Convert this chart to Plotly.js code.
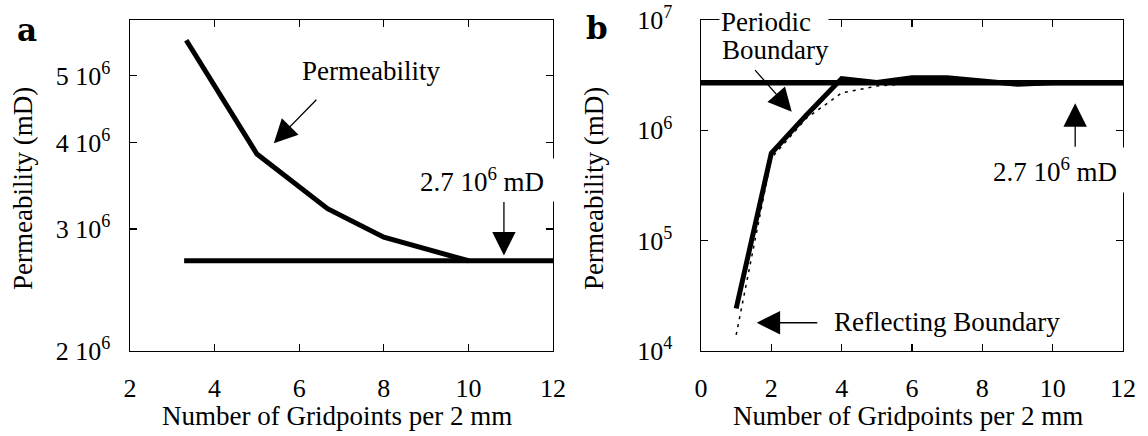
<!DOCTYPE html>
<html><head><meta charset="utf-8">
<script src="https://cdn.plot.ly/plotly-3.0.1.min.js"></script>
<style>html,body{margin:0;padding:0;background:#fff;}#chart{width:1148px;height:436px;}</style>
</head><body><div id="chart"></div>
<script>
// ---- Panel a data ----
const gridA = [3.33, 5, 6.67, 8, 10];
const permA = [5.62e6, 3.85e6, 3.21e6, 2.92e6, 2.70e6];
const refAx = [3.28, 12];
const refAy = [2.7e6, 2.7e6];
const xTicksA = [2, 4, 6, 8, 10, 12];
const yTicksA = [2e6, 3e6, 4e6, 5e6];
const yTickTextA = ['2 10<sup>6</sup>', '3 10<sup>6</sup>', '4 10<sup>6</sup>', '5 10<sup>6</sup>'];

// ---- Panel b data ----
const gridB = [1, 2, 3, 4, 5, 6, 7, 8, 9, 10, 11, 12];
const periodicB = [2.43e4, 6.2e5, 1.38e6, 2.95e6, 2.72e6, 3.0e6, 3.0e6, 2.8e6, 2.62e6, 2.7e6, 2.7e6, 2.7e6];
const reflectingB = [1.4e4, 5.6e5, 1.29e6, 2.18e6, 2.52e6, 2.66e6, 2.7e6, 2.7e6, 2.7e6, 2.7e6, 2.7e6, 2.7e6];
const refBx = [0, 12];
const refBy = [2.7e6, 2.7e6];
const xTicksB = [0, 2, 4, 6, 8, 10, 12];
const yTicksB = [1e4, 1e5, 1e6, 1e7];
const yTickTextB = ['10<sup>4</sup>', '10<sup>5</sup>', '10<sup>6</sup>', '10<sup>7</sup>'];

const FONT = '"Liberation Serif"';
const TXT = 27;
const W = 1148, H = 436;
const px = v => v / W, py = v => 1 - v / H;
const L = Math.log10;

const traces = [
  {x: refAx, y: refAy, xaxis: 'x', yaxis: 'y', mode: 'lines', line: {color: '#000', width: 5}},
  {x: gridA, y: permA, xaxis: 'x', yaxis: 'y', mode: 'lines', line: {color: '#000', width: 5}},
  {x: refBx, y: refBy, xaxis: 'x2', yaxis: 'y2', mode: 'lines', line: {color: '#000', width: 5.5}},
  {x: gridB, y: reflectingB, xaxis: 'x2', yaxis: 'y2', mode: 'lines', line: {color: '#000', width: 1.5, dash: '3px,5px'}},
  {x: gridB, y: periodicB, xaxis: 'x2', yaxis: 'y2', mode: 'lines', line: {color: '#000', width: 5}}
];

const axBase = {
  showline: true, linecolor: '#000', linewidth: 1.4, mirror: 'ticks',
  ticks: 'inside', ticklen: 7, tickwidth: 1.3, tickcolor: '#000',
  showgrid: false, zeroline: false, fixedrange: true,
  tickfont: {family: FONT, size: 26, color: '#000'}
};
const yDom = [py(351), py(20)];

const P = (x, y, text, extra) => Object.assign({xref: 'paper', yref: 'paper', x: px(x), y: py(y), xanchor: 'center', yanchor: 'middle', text: text, showarrow: false}, extra || {});
const arrowStyle = {text: '', showarrow: true, arrowhead: 2, arrowsize: 3.6, arrowwidth: 1.3, arrowcolor: '#000', standoff: 0};

const layout = {
  width: W, height: H, margin: {l: 0, r: 0, t: 0, b: 0},
  paper_bgcolor: '#fff', plot_bgcolor: '#fff', showlegend: false,
  font: {family: FONT, size: TXT, color: '#000'},
  xaxis: Object.assign({}, axBase, {domain: [px(130), px(553)], range: [2, 12], tickmode: 'array', tickvals: xTicksA, anchor: 'y', ticklabelstandoff: 13}),
  yaxis: Object.assign({}, axBase, {domain: yDom, type: 'log', range: [L(2e6), 6.779], tickmode: 'array', tickvals: yTicksA, ticktext: yTickTextA, anchor: 'x', ticklabelstandoff: 13}),
  xaxis2: Object.assign({}, axBase, {domain: [px(701), px(1123)], range: [0, 12], tickmode: 'array', tickvals: xTicksB, anchor: 'y2', ticklabelstandoff: 13}),
  yaxis2: Object.assign({}, axBase, {domain: yDom, type: 'log', range: [4, 7], tickmode: 'array', tickvals: yTicksB, ticktext: yTickTextB, anchor: 'x2', ticklabelstandoff: 22}),
  annotations: [
    // panel letters
    P(27, 30, '<b>a</b>', {font: {family: '"DejaVu Serif"', size: 31, color: '#000'}}),
    P(597, 28, '<b>b</b>', {font: {family: '"DejaVu Serif"', size: 31, color: '#000'}}),
    // axis titles
    P(337, 416, 'Number of Gridpoints per 2 mm'),
    P(908, 416, 'Number of Gridpoints per 2 mm'),
    P(23, 189, 'Permeability (mD)', {textangle: -90}),
    P(594, 189, 'Permeability (mD)', {textangle: -90}),
    // panel a labels
    {xref: 'x', yref: 'y', x: 7.70, y: 6.705, xanchor: 'center', yanchor: 'middle', text: 'Permeability', showarrow: false},
    Object.assign({xref: 'x', yref: 'y', x: 5.40, y: 6.601, ax: 44, ay: -45}, arrowStyle),
    {xref: 'x', yref: 'y', x: 10.32, y: 6.548, xanchor: 'center', yanchor: 'middle', text: '2.7 10<sup>6</sup> mD', showarrow: false, bgcolor: '#fff', width: 146, height: 36, borderpad: 3},
    Object.assign({xref: 'x', yref: 'y', x: 10.84, y: 6.439, ax: 0, ay: -55}, arrowStyle),
    // panel b labels
    {xref: 'x2', yref: 'y2', x: 0.50, y: 6.98, xanchor: 'left', yanchor: 'middle', align: 'left', text: 'Periodic', showarrow: false, bgcolor: '#fff', borderpad: 1, width: 106},
    {xref: 'x2', yref: 'y2', x: 0.53, y: 6.73, xanchor: 'left', yanchor: 'middle', align: 'left', text: 'Boundary', showarrow: false},
    Object.assign({xref: 'x2', yref: 'y2', x: 2.58, y: 6.169, ax: -38, ay: -43}, arrowStyle),
    {xref: 'x2', yref: 'y2', x: 10.08, y: 5.64, xanchor: 'center', yanchor: 'middle', text: '2.7 10<sup>6</sup> mD', showarrow: false, bgcolor: '#fff', width: 146, height: 38, borderpad: 3},
    Object.assign({xref: 'x2', yref: 'y2', x: 10.64, y: 6.245, ax: 0, ay: 45}, arrowStyle),
    {xref: 'x2', yref: 'y2', x: 3.72, y: 4.265, xanchor: 'left', yanchor: 'middle', text: 'Reflecting Boundary', showarrow: false},
    Object.assign({xref: 'x2', yref: 'y2', x: 1.585, y: 4.256, ax: 62, ay: 0}, arrowStyle)
  ]
};

Plotly.newPlot('chart', traces, layout, {staticPlot: true, displayModeBar: false});
</script>
</body></html>
